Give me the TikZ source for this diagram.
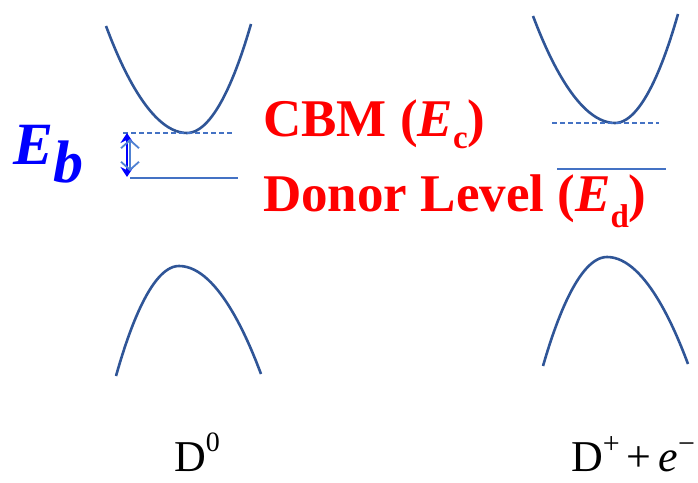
\documentclass[tikz,border=0pt]{standalone}
\usepackage{fontspec}
\setmainfont{Liberation Serif}
\usetikzlibrary{arrows.meta}
\definecolor{bandblue}{RGB}{47,85,151}
\definecolor{levelblue}{RGB}{68,114,196}
\definecolor{lightarrow}{RGB}{80,130,210}
\begin{document}
\begin{tikzpicture}[x=1pt,y=1pt,
  band/.style={bandblue,line width=2.6pt},
  level/.style={levelblue,line width=1.1pt},
  dlevel/.style={levelblue,line width=1.1pt,dash pattern=on 5pt off 3pt},
  redlbl/.style={red,anchor=base west,inner sep=0pt,font=\fontsize{53}{53}\selectfont\bfseries},
  dlbl/.style={black,anchor=base west,inner sep=0pt,font=\fontsize{44}{44}\selectfont}]
\useasboundingbox (0,0) rectangle (698,482);
% left bands
\draw[band] (106,456) parabola bend (187,349) (251,458);
\draw[band] (116,106) parabola bend (179,216) (261,108);
% right bands
\draw[band] (533,466) parabola bend (615,359) (678,468);
\draw[band] (543,116) parabola bend (607,225) (688,118);
% levels
\draw[dlevel] (123,349) -- (232,349);
\draw[level] (130,304) -- (238,304);
\draw[dlevel] (552,359) -- (659,359);
\draw[level] (557,313) -- (666,313);
% arrows
\coordinate (at) at (127,349);
\coordinate (ab) at (127,305);
\draw[blue,line width=2.2pt,{Stealth[length=10pt,width=13pt]}-{Stealth[length=10pt,width=13pt]}] (at) -- (ab);
\coordinate (lt) at (130,343);
\coordinate (lb) at (130,311);
\draw[lightarrow,line width=1.8pt,{Straight Barb[length=8pt,width=18pt]}-{Straight Barb[length=8pt,width=18pt]}] (lt) -- (lb);
% labels
\node[blue,anchor=base west,inner sep=0pt,font=\fontsize{60}{60}\selectfont\bfseries\itshape] (eb) at (13,317) {E\raisebox{-18pt}{b}};
\node[redlbl] (cbm) at (263,345) {CBM (\textit{E}\raisebox{-12pt}{\fontsize{33}{33}\selectfont c})};
\node[redlbl] (don) at (263,270) {Donor Level (\textit{E}\raisebox{-16pt}{\fontsize{33}{33}\selectfont d})};
\node[dlbl] (d0) at (174,11) {D\raisebox{20pt}{\fontsize{28}{28}\selectfont 0}};
\node[dlbl] (dp) at (571,11) {D\raisebox{18pt}{\fontsize{30}{30}\selectfont +}\hspace{7pt}+\hspace{7pt}\textit{e}\raisebox{18pt}{\fontsize{30}{30}\selectfont −}};
\end{tikzpicture}
\end{document}
